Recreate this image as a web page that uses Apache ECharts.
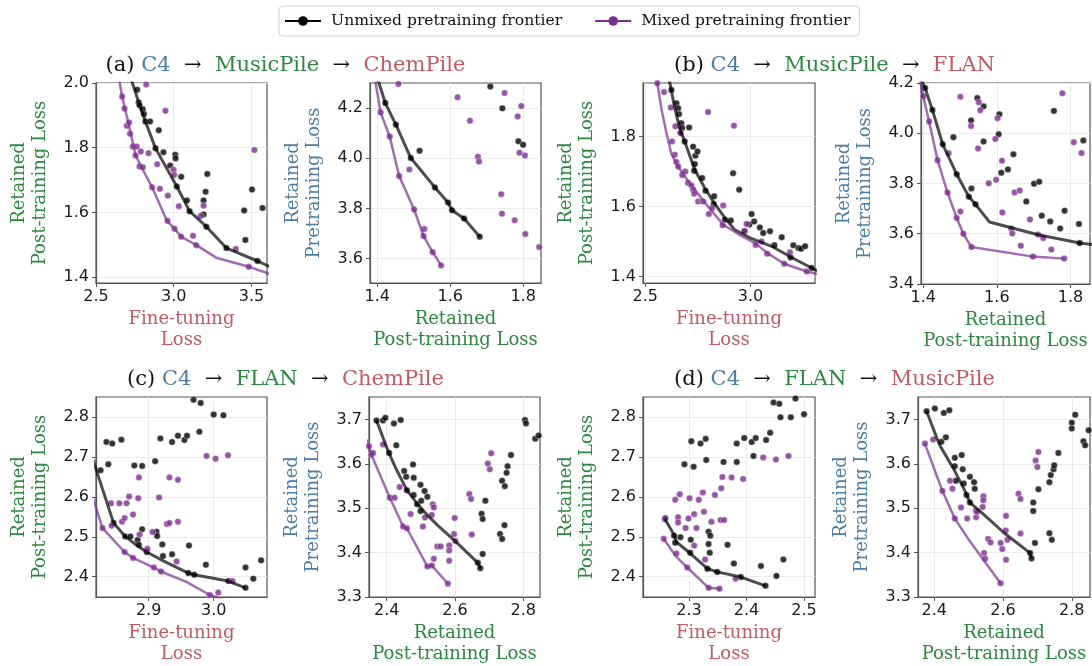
<!DOCTYPE html>
<html>
<head>
<meta charset="utf-8">
<script src="https://cdn.jsdelivr.net/npm/echarts@6/dist/echarts.min.js"></script>
<style>
html, body { margin: 0; background: #fff; }
#chart { width: 1092px; height: 666px; }
</style>
</head>
<body>
<div id="chart"></div>
<script>
// ---- (a) C4 -> MusicPile -> ChemPile ----
var aL_xTicks = [2.5, 3.0, 3.5];
var aL_yTicks = [1.4, 1.6, 1.8, 2.0];
var aL_unmixed = [[2.765,1.979],[2.775,1.940],[2.780,1.931],[2.801,1.919],[2.808,1.904],[2.818,1.881],[2.848,1.881],[2.904,1.854],[2.883,1.798],[2.934,1.786],[3.010,1.778],[3.012,1.767],[2.977,1.745],[3.048,1.710],[3.020,1.680],[3.216,1.719],[3.085,1.637],[3.102,1.604],[3.192,1.637],[3.205,1.664],[3.192,1.594],[3.210,1.556],[3.339,1.490],[3.453,1.606],[3.461,1.515],[3.504,1.671],[3.571,1.614],[3.539,1.450]];
var aL_unmixedFront = [[2.70,2.05],[2.775,1.940],[2.818,1.881],[2.883,1.798],[3.020,1.680],[3.102,1.604],[3.210,1.556],[3.339,1.490],[3.539,1.450],[3.65,1.425]];
var aL_mixed = [[2.823,1.995],[2.668,1.958],[2.683,1.921],[2.698,1.868],[2.713,1.878],[2.719,1.843],[2.737,1.804],[2.762,1.804],[2.754,1.776],[2.788,1.788],[2.780,1.742],[2.801,1.740],[2.838,1.783],[2.947,1.914],[2.894,1.749],[2.861,1.678],[2.911,1.673],[2.962,1.652],[2.999,1.732],[3.003,1.716],[3.033,1.619],[2.960,1.574],[3.005,1.550],[3.048,1.525],[3.124,1.528],[3.145,1.499],[3.173,1.589],[3.192,1.621],[3.399,1.487],[3.483,1.432],[3.519,1.793]];
var aL_mixedFront = [[2.635,2.05],[2.668,1.958],[2.711,1.871],[2.754,1.778],[2.790,1.742],[2.861,1.678],[2.956,1.574],[3.005,1.550],[3.048,1.525],[3.145,1.499],[3.278,1.459],[3.485,1.432],[3.65,1.405]];

var aR_xTicks = [1.4, 1.6, 1.8];
var aR_yTicks = [3.6, 3.8, 4.0, 4.2];
var aR_unmixed = [[1.422,4.220],[1.451,4.134],[1.492,4.001],[1.558,3.884],[1.594,3.824],[1.605,3.793],[1.638,3.760],[1.681,3.687],[1.516,4.030],[1.710,4.286],[1.743,4.199],[1.787,4.068],[1.800,4.054]];
var aR_unmixedFront = [[1.398,4.33],[1.422,4.220],[1.451,4.134],[1.492,4.001],[1.558,3.884],[1.594,3.824],[1.605,3.793],[1.638,3.760],[1.681,3.687]];
var aR_mixed = [[1.409,4.183],[1.434,4.087],[1.460,3.929],[1.501,3.796],[1.527,3.690],[1.552,3.626],[1.575,3.573],[1.458,4.296],[1.488,3.955],[1.529,3.718],[1.620,4.243],[1.654,4.150],[1.676,4.006],[1.679,3.987],[1.740,3.857],[1.742,3.779],[1.749,4.260],[1.777,3.753],[1.785,4.167],[1.790,4.022],[1.795,4.208],[1.805,4.011],[1.806,3.698],[1.844,3.646]];
var aR_mixedFront = [[1.392,4.33],[1.409,4.183],[1.434,4.087],[1.460,3.929],[1.501,3.796],[1.527,3.690],[1.552,3.626],[1.575,3.573]];

// ---- (b) C4 -> MusicPile -> FLAN ----
var bL_xTicks = [2.5, 3.0];
var bL_yTicks = [1.4, 1.6, 1.8];
var bL_unmixed = [[2.640,1.957],[2.624,1.933],[2.648,1.895],[2.656,1.881],[2.660,1.864],[2.671,1.838],[2.675,1.824],[2.668,1.810],[2.687,1.786],[2.708,1.826],[2.727,1.771],[2.738,1.745],[2.748,1.757],[2.735,1.721],[2.732,1.702],[2.770,1.681],[2.786,1.645],[2.827,1.629],[2.825,1.607],[2.878,1.562],[2.906,1.560],[2.917,1.695],[2.946,1.648],[2.973,1.529],[2.994,1.548],[3.005,1.578],[3.017,1.557],[3.044,1.540],[3.060,1.524],[3.092,1.529],[3.113,1.489],[3.148,1.512],[3.203,1.489],[3.227,1.481],[3.240,1.479],[3.259,1.486],[3.190,1.454],[3.290,1.424]];
var bL_unmixedFront = [[2.608,1.98],[2.640,1.881],[2.663,1.824],[2.690,1.781],[2.735,1.705],[2.783,1.652],[2.827,1.610],[2.878,1.567],[2.925,1.533],[2.997,1.510],[3.100,1.486],[3.195,1.454],[3.290,1.424],[3.33,1.412]];
var bL_mixed = [[2.557,1.952],[2.589,1.927],[2.621,1.883],[2.627,1.786],[2.640,1.748],[2.643,1.829],[2.648,1.727],[2.656,1.714],[2.667,1.810],[2.675,1.690],[2.690,1.700],[2.703,1.667],[2.719,1.660],[2.727,1.648],[2.732,1.636],[2.751,1.614],[2.775,1.614],[2.802,1.578],[2.817,1.595],[2.798,1.870],[2.870,1.603],[2.867,1.546],[2.921,1.831],[2.970,1.530],[2.981,1.550],[3.024,1.490],[3.052,1.500],[3.079,1.465],[3.160,1.436],[3.187,1.469],[3.267,1.414]];
var bL_mixedFront = [[2.550,1.98],[2.576,1.881],[2.597,1.819],[2.624,1.750],[2.656,1.714],[2.687,1.686],[2.735,1.648],[2.798,1.600],[2.870,1.548],[2.941,1.521],[3.021,1.495],[3.084,1.465],[3.160,1.436],[3.267,1.414],[3.33,1.405]];

var bR_xTicks = [1.4, 1.6, 1.8];
var bR_yTicks = [3.4, 3.6, 3.8, 4.0, 4.2];
var bR_unmixed = [[1.405,4.180],[1.425,4.093],[1.453,3.956],[1.482,3.984],[1.491,3.837],[1.524,3.747],[1.530,4.051],[1.531,3.780],[1.542,3.717],[1.547,4.140],[1.564,4.107],[1.564,3.967],[1.607,4.076],[1.605,3.996],[1.612,3.843],[1.630,3.856],[1.645,3.916],[1.680,3.728],[1.701,3.799],[1.715,3.807],[1.722,3.672],[1.745,3.649],[1.755,4.089],[1.772,3.621],[1.784,3.692],[1.823,3.639],[1.825,3.563],[1.835,3.971]];
var bR_unmixedFront = [[1.39,4.23],[1.405,4.180],[1.425,4.093],[1.453,3.956],[1.491,3.837],[1.524,3.747],[1.542,3.717],[1.580,3.647],[1.712,3.596],[1.825,3.563],[1.87,3.555]];
var bR_mixed = [[1.400,4.147],[1.416,4.047],[1.439,3.893],[1.466,3.764],[1.469,3.920],[1.491,3.663],[1.501,3.689],[1.501,4.145],[1.509,3.600],[1.531,3.547],[1.530,4.029],[1.549,3.939],[1.551,4.123],[1.555,4.092],[1.578,3.801],[1.596,3.977],[1.602,4.060],[1.598,3.815],[1.614,3.891],[1.615,3.685],[1.639,3.621],[1.642,3.601],[1.648,3.764],[1.662,3.772],[1.665,3.552],[1.690,3.657],[1.698,3.509],[1.712,3.597],[1.726,3.583],[1.748,3.537],[1.778,4.159],[1.783,3.501],[1.809,3.964],[1.830,3.921]];
var bR_mixedFront = [[1.389,4.23],[1.400,4.147],[1.416,4.047],[1.439,3.893],[1.466,3.764],[1.491,3.663],[1.509,3.600],[1.531,3.547],[1.698,3.509],[1.783,3.501]];

// ---- (c) C4 -> FLAN -> ChemPile ----
var cL_xTicks = [2.9, 3.0];
var cL_yTicks = [2.4, 2.5, 2.6, 2.7, 2.8];
var cL_unmixed = [[2.826,2.667],[2.835,2.738],[2.838,2.682],[2.844,2.734],[2.846,2.535],[2.858,2.744],[2.864,2.501],[2.872,2.501],[2.878,2.679],[2.883,2.492],[2.885,2.480],[2.890,2.678],[2.890,2.519],[2.897,2.462],[2.910,2.690],[2.912,2.513],[2.913,2.502],[2.918,2.747],[2.921,2.481],[2.922,2.452],[2.936,2.738],[2.936,2.456],[2.945,2.754],[2.955,2.743],[2.959,2.754],[2.961,2.409],[2.962,2.478],[2.969,2.844],[2.970,2.405],[2.978,2.764],[2.980,2.836],[2.988,2.430],[3.000,2.807],[3.015,2.805],[3.023,2.389],[3.049,2.372],[3.049,2.423],[3.061,2.395],[3.073,2.441]];
var cL_unmixedFront = [[2.81,2.715],[2.846,2.535],[2.864,2.501],[2.882,2.478],[2.897,2.462],[2.921,2.441],[2.961,2.409],[2.970,2.405],[3.022,2.389],[3.049,2.372]];
var cL_mixed = [[2.829,2.522],[2.842,2.584],[2.843,2.528],[2.855,2.584],[2.859,2.538],[2.863,2.547],[2.863,2.462],[2.866,2.584],[2.870,2.601],[2.876,2.556],[2.876,2.447],[2.884,2.597],[2.885,2.649],[2.886,2.506],[2.898,2.470],[2.906,2.512],[2.908,2.423],[2.916,2.599],[2.919,2.413],[2.928,2.532],[2.932,2.649],[2.932,2.535],[2.943,2.438],[2.945,2.643],[2.945,2.538],[2.989,2.703],[2.994,2.354],[3.003,2.696],[3.007,2.360],[3.022,2.705],[3.029,2.389]];
var cL_mixedFront = [[2.81,2.62],[2.829,2.522],[2.863,2.462],[2.876,2.447],[2.908,2.423],[2.919,2.413],[2.958,2.387],[2.994,2.354],[3.02,2.34]];

var cR_xTicks = [2.4, 2.6, 2.8];
var cR_yTicks = [3.3, 3.4, 3.5, 3.6, 3.7];
var cR_unmixed = [[2.370,3.698],[2.389,3.698],[2.396,3.704],[2.421,3.691],[2.441,3.699],[2.428,3.642],[2.407,3.625],[2.451,3.584],[2.457,3.571],[2.459,3.541],[2.477,3.599],[2.479,3.569],[2.479,3.530],[2.489,3.509],[2.499,3.553],[2.501,3.517],[2.499,3.494],[2.511,3.539],[2.519,3.526],[2.667,3.377],[2.674,3.365],[2.678,3.488],[2.681,3.476],[2.681,3.397],[2.689,3.517],[2.732,3.442],[2.738,3.431],[2.738,3.562],[2.745,3.462],[2.746,3.550],[2.751,3.580],[2.754,3.595],[2.764,3.620],[2.805,3.699],[2.808,3.691],[2.835,3.657],[2.845,3.664]];
var cR_unmixedFront = [[2.370,3.698],[2.404,3.629],[2.428,3.588],[2.459,3.541],[2.491,3.509],[2.516,3.487],[2.550,3.461],[2.599,3.427],[2.667,3.377],[2.674,3.365]];
var cR_mixed = [[2.348,3.640],[2.355,3.621],[2.360,3.625],[2.389,3.644],[2.409,3.524],[2.423,3.524],[2.438,3.548],[2.448,3.459],[2.459,3.455],[2.470,3.487],[2.506,3.459],[2.512,3.479],[2.519,3.369],[2.532,3.371],[2.535,3.509],[2.538,3.502],[2.532,3.485],[2.538,3.386],[2.548,3.414],[2.558,3.414],[2.579,3.330],[2.583,3.416],[2.583,3.405],[2.583,3.382],[2.599,3.478],[2.597,3.442],[2.601,3.426],[2.642,3.532],[2.647,3.521],[2.649,3.441],[2.696,3.601],[2.702,3.588],[2.706,3.624]];
var cR_mixedFront = [[2.34,3.655],[2.348,3.640],[2.355,3.621],[2.409,3.524],[2.448,3.459],[2.459,3.455],[2.519,3.369],[2.532,3.371],[2.579,3.330]];

// ---- (d) C4 -> FLAN -> MusicPile ----
var dL_xTicks = [2.3, 2.4, 2.5];
var dL_yTicks = [2.4, 2.5, 2.6, 2.7, 2.8];
var dL_unmixed = [[2.258,2.545],[2.274,2.503],[2.276,2.485],[2.285,2.499],[2.292,2.682],[2.304,2.740],[2.308,2.676],[2.303,2.493],[2.302,2.460],[2.320,2.734],[2.329,2.746],[2.330,2.693],[2.334,2.482],[2.334,2.513],[2.337,2.503],[2.336,2.460],[2.332,2.420],[2.349,2.412],[2.360,2.688],[2.367,2.480],[2.378,2.433],[2.383,2.734],[2.383,2.688],[2.390,2.399],[2.396,2.748],[2.409,2.738],[2.412,2.703],[2.416,2.748],[2.425,2.427],[2.433,2.377],[2.434,2.743],[2.441,2.761],[2.447,2.837],[2.452,2.402],[2.457,2.834],[2.459,2.800],[2.464,2.443],[2.477,2.800],[2.485,2.847],[2.500,2.808]];
var dL_unmixedFront = [[2.258,2.545],[2.275,2.503],[2.278,2.487],[2.301,2.460],[2.332,2.420],[2.349,2.412],[2.390,2.399],[2.433,2.377]];
var dL_mixed = [[2.259,2.547],[2.276,2.593],[2.281,2.549],[2.281,2.536],[2.284,2.607],[2.278,2.458],[2.294,2.522],[2.301,2.597],[2.299,2.546],[2.309,2.557],[2.309,2.478],[2.313,2.522],[2.317,2.593],[2.324,2.611],[2.326,2.563],[2.328,2.443],[2.339,2.538],[2.345,2.605],[2.356,2.622],[2.358,2.650],[2.355,2.542],[2.361,2.542],[2.374,2.649],[2.394,2.645],[2.381,2.395],[2.429,2.699],[2.451,2.694],[2.473,2.703],[2.256,2.495],[2.297,2.423],[2.334,2.372],[2.353,2.370]];
var dL_mixedFront = [[2.256,2.495],[2.276,2.453],[2.297,2.423],[2.334,2.372],[2.353,2.370]];

var dR_xTicks = [2.4, 2.6, 2.8];
var dR_yTicks = [3.3, 3.4, 3.5, 3.6, 3.7];
var dR_unmixed = [[2.378,3.719],[2.402,3.725],[2.421,3.650],[2.428,3.715],[2.434,3.660],[2.444,3.721],[2.460,3.614],[2.460,3.595],[2.463,3.562],[2.480,3.620],[2.483,3.588],[2.486,3.556],[2.494,3.530],[2.504,3.571],[2.504,3.513],[2.516,3.559],[2.518,3.544],[2.679,3.399],[2.683,3.387],[2.688,3.513],[2.688,3.494],[2.693,3.422],[2.703,3.543],[2.735,3.444],[2.742,3.429],[2.735,3.559],[2.739,3.575],[2.747,3.588],[2.749,3.597],[2.761,3.625],[2.800,3.693],[2.800,3.680],[2.810,3.711],[2.834,3.651],[2.839,3.642],[2.849,3.676]];
var dR_unmixedFront = [[2.378,3.719],[2.415,3.644],[2.460,3.584],[2.494,3.532],[2.504,3.513],[2.543,3.487],[2.601,3.446],[2.679,3.399],[2.683,3.387]];
var dR_mixed = [[2.373,3.646],[2.397,3.655],[2.424,3.539],[2.446,3.562],[2.453,3.544],[2.460,3.477],[2.478,3.502],[2.496,3.477],[2.521,3.494],[2.522,3.480],[2.525,3.492],[2.543,3.527],[2.543,3.518],[2.541,3.503],[2.545,3.399],[2.548,3.386],[2.557,3.431],[2.564,3.423],[2.593,3.422],[2.598,3.408],[2.609,3.483],[2.608,3.450],[2.609,3.384],[2.613,3.429],[2.645,3.533],[2.651,3.521],[2.651,3.443],[2.695,3.608],[2.700,3.593],[2.703,3.627],[2.593,3.331]];
var dR_mixedFront = [[2.373,3.646],[2.424,3.539],[2.460,3.477],[2.499,3.431],[2.593,3.331]];

var BLUE = '#4f7ca3', GREEN = '#2e8740', RED = '#c05a64', PURPLE = '#7b2d8e';
var SERIF = 'DejaVu Serif', SANS = 'DejaVu Sans';
var UNMIXED = 'Unmixed pretraining frontier', MIXED = 'Mixed pretraining frontier';

var ftName = 'Fine-tuning\nLoss', postName = 'Retained\nPost-training Loss', preName = 'Retained\nPretraining Loss';

// grid box [left, top, width, height], axis limits, ticks, axis names
var panels = [
    {box:[96,83,171,200],  x:[2.5,3.6],     y:[1.382,2.0],  xt:aL_xTicks, yt:aL_yTicks, xn:ftName,   xc:RED,   yn:postName, yc:GREEN, d:[aL_unmixed,aL_mixed,aL_unmixedFront,aL_mixedFront]},
    {box:[370,83,171,200], x:[1.38,1.849],  y:[3.503,4.30], xt:aR_xTicks, yt:aR_yTicks, xn:postName, xc:GREEN, yn:preName,  yc:BLUE,  d:[aR_unmixed,aR_mixed,aR_unmixedFront,aR_mixedFront]},
    {box:[643,83,172,200], x:[2.489,3.306], y:[1.381,1.953],xt:bL_xTicks, yt:bL_yTicks, xn:ftName,   xc:RED,   yn:postName, yc:GREEN, d:[bL_unmixed,bL_mixed,bL_unmixedFront,bL_mixedFront]},
    {box:[921,83,169,201], x:[1.394,1.853], y:[3.4,4.2],    xt:bR_xTicks, yt:bR_yTicks, xn:postName, xc:GREEN, yn:preName,  yc:BLUE,  d:[bR_unmixed,bR_mixed,bR_unmixedFront,bR_mixedFront]},
    {box:[96,397,171,201], x:[2.819,3.082], y:[2.349,2.851],xt:cL_xTicks, yt:cL_yTicks, xn:ftName,   xc:RED,   yn:postName, yc:GREEN, d:[cL_unmixed,cL_mixed,cL_unmixedFront,cL_mixedFront]},
    {box:[369,397,171,201],x:[2.348,2.849], y:[3.3,3.751],  xt:cR_xTicks, yt:cR_yTicks, xn:postName, xc:GREEN, yn:preName,  yc:BLUE,  d:[cR_unmixed,cR_mixed,cR_unmixedFront,cR_mixedFront]},
    {box:[643,397,172,201],x:[2.22,2.519],  y:[2.349,2.851],xt:dL_xTicks, yt:dL_yTicks, xn:ftName,   xc:RED,   yn:postName, yc:GREEN, d:[dL_unmixed,dL_mixed,dL_unmixedFront,dL_mixedFront]},
    {box:[918,397,172,201],x:[2.353,2.853], y:[3.3,3.751],  xt:dR_xTicks, yt:dR_yTicks, xn:postName, xc:GREEN, yn:preName,  yc:BLUE,  d:[dR_unmixed,dR_mixed,dR_unmixedFront,dR_mixedFront]}
];

function fmt(v) { return (+v).toFixed(1); }

var grids = [], xAxes = [], yAxes = [];
var series = [
    // legend proxies
    {type:'line', name:UNMIXED, data:[], xAxisIndex:0, yAxisIndex:0, color:'#000', symbol:'circle', symbolSize:9, lineStyle:{width:3}},
    {type:'line', name:MIXED, data:[], xAxisIndex:0, yAxisIndex:0, color:PURPLE, symbol:'circle', symbolSize:9, lineStyle:{width:3}}
];

panels.forEach(function (p, i) {
    grids.push({left:p.box[0], top:p.box[1], width:p.box[2], height:p.box[3], show:true,
        borderColor:'#555', borderWidth:1.2, backgroundColor:'#fff'});
    var tickStyle = {show:true, length:4, lineStyle:{color:'#555', width:1}};
    xAxes.push({
        gridIndex:i, type:'value', min:p.x[0], max:p.x[1],
        axisLine:{show:true, lineStyle:{color:'#555', width:1.2}},
        axisTick:Object.assign({customValues:p.xt}, tickStyle),
        axisLabel:{customValues:p.xt, formatter:fmt, fontFamily:SANS, fontSize:16, color:'#1a1a1a', margin:6},
        splitLine:{show:true, lineStyle:{color:'#ebebeb', width:1}},
        name:p.xn, nameLocation:'middle', nameGap:26,
        nameTextStyle:{fontFamily:SERIF, fontSize:18, color:p.xc, lineHeight:21}
    });
    yAxes.push({
        gridIndex:i, type:'value', min:p.y[0], max:p.y[1],
        axisLine:{show:true, lineStyle:{color:'#555', width:1.2}},
        axisTick:Object.assign({customValues:p.yt}, tickStyle),
        axisLabel:{customValues:p.yt, formatter:fmt, fontFamily:SANS, fontSize:16, color:'#1a1a1a', margin:7},
        splitLine:{show:true, lineStyle:{color:'#ebebeb', width:1}},
        name:p.yn, nameLocation:'middle', nameGap:45,
        nameTextStyle:{fontFamily:SERIF, fontSize:18, color:p.yc, lineHeight:21}
    });
    series.push(
        {type:'scatter', xAxisIndex:i, yAxisIndex:i, data:p.d[0], symbolSize:6.5, silent:true, z:2,
            itemStyle:{color:'#000', borderColor:'#fff', borderWidth:0.5}},
        {type:'scatter', xAxisIndex:i, yAxisIndex:i, data:p.d[1], symbolSize:6.5, silent:true, z:2,
            itemStyle:{color:PURPLE, borderColor:'#fff', borderWidth:0.5}},
        {type:'line', xAxisIndex:i, yAxisIndex:i, data:p.d[2], symbol:'none', silent:true, z:3, clip:true,
            lineStyle:{color:'#000', width:3, opacity:0.7}},
        {type:'line', xAxisIndex:i, yAxisIndex:i, data:p.d[3], symbol:'none', silent:true, z:3, clip:true,
            lineStyle:{color:PURPLE, width:2.5, opacity:0.7}}
    );
});

var rich = {
    k:{fill:'#111', fontSize:21, fontFamily:SERIF},
    b:{fill:BLUE, fontSize:21, fontFamily:SERIF},
    g:{fill:GREEN, fontSize:21, fontFamily:SERIF},
    r:{fill:RED, fontSize:21, fontFamily:SERIF}
};
function title(x, y, txt) {
    return {type:'text', x:x, y:y, silent:true,
        style:{text:txt, rich:rich, align:'center', verticalAlign:'middle', fontSize:21, fontFamily:SERIF}};
}

var chart = echarts.init(document.getElementById('chart'), null, {renderer:'canvas'});
chart.setOption({
    animation:false,
    backgroundColor:'#fff',
    legend:{
        data:[UNMIXED, MIXED], left:279, top:6, padding:[7,9,7,5],
        itemWidth:36, itemHeight:12, itemGap:32,
        textStyle:{fontFamily:SERIF, fontSize:15.6, color:'#111', padding:[0,0,0,5]},
        borderColor:'#d0d0d0', borderWidth:1, borderRadius:4, backgroundColor:'#fff'
    },
    grid:grids,
    xAxis:xAxes,
    yAxis:yAxes,
    series:series,
    graphic:[
        title(285.5, 65.5, '{k|(a)} {b|C4}  {k|→}  {g|MusicPile}  {k|→}  {r|ChemPile}'),
        title(834.5, 65.5, '{k|(b)} {b|C4}  {k|→}  {g|MusicPile}  {k|→}  {r|FLAN}'),
        title(285.5, 379.5, '{k|(c)} {b|C4}  {k|→}  {g|FLAN}  {k|→}  {r|ChemPile}'),
        title(834.5, 379.5, '{k|(d)} {b|C4}  {k|→}  {g|FLAN}  {k|→}  {r|MusicPile}')
    ]
});
</script>
</body>
</html>
